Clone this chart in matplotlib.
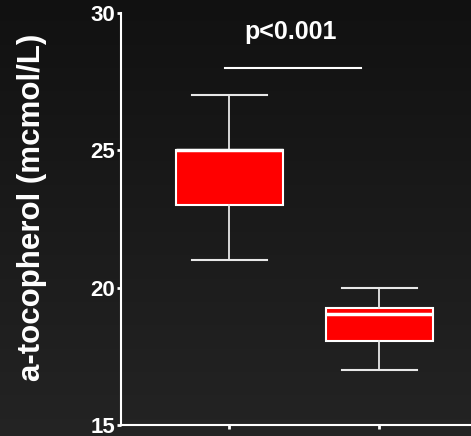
import numpy as np
import matplotlib.pyplot as plt

plt.rcParams['font.family'] = ['Liberation Sans', 'DejaVu Sans']
plt.rcParams['font.weight'] = 'bold'

# five-number summaries for the two groups
groups = ['Group 1', 'Group 2']
whisker_low = [21.0, 17.0]
q1 = [23.0, 18.05]
median = [25.0, 19.05]
q3 = [25.0, 19.25]
whisker_high = [27.0, 20.0]

p_label = 'p<0.001'
p_line_y = 28.0
y_ticks = [15, 20, 25, 30]

fig = plt.figure(figsize=(4.71, 4.36), dpi=100)

# dark vertical gradient behind everything
bg = fig.add_axes([0, 0, 1, 1], zorder=-1)
grad = np.linspace(0.067, 0.14, 256).reshape(-1, 1)
bg.imshow(np.dstack([grad] * 3), aspect='auto', extent=[0, 1, 0, 1], origin='upper')
bg.axis('off')

ax = fig.add_axes([121 / 471, 11 / 436, 1 - 121 / 471, 412 / 436])
ax.patch.set_alpha(0)

stats = []
for i, name in enumerate(groups):
    stats.append(dict(label=name, whislo=whisker_low[i], q1=q1[i], med=median[i],
                      q3=q3[i], whishi=whisker_high[i], fliers=[]))

ax.bxp(stats, positions=[1, 2], widths=0.71, patch_artist=True, showfliers=False,
       boxprops=dict(facecolor='#ff0000', edgecolor='white', linewidth=1.5),
       medianprops=dict(color='white', linewidth=2.5),
       whiskerprops=dict(color='#e8e8e8', linewidth=1.3),
       capprops=dict(color='#e8e8e8', linewidth=1.5), capwidths=0.5)

ax.plot([0.97, 1.88], [p_line_y, p_line_y], color='white', lw=1.5)
ax.text(1.41, 29.32, p_label, color='white', fontsize=18, fontweight='bold',
        ha='center', va='center')

ax.set_xlim(0.277, 2.61)
ax.set_ylim(15, 30)
ax.set_yticks(y_ticks)
ax.set_xticks([1, 2])
ax.set_xticklabels(['', ''])
ax.tick_params(axis='y', colors='white', labelsize=16, length=3, width=2, pad=1)
ax.tick_params(axis='x', colors='white', length=3, width=2)
for lab in ax.get_yticklabels():
    lab.set_fontweight('bold')

for side in ['top', 'right']:
    ax.spines[side].set_visible(False)
for side in ['left', 'bottom']:
    ax.spines[side].set_color('white')
    ax.spines[side].set_linewidth(1.5)

ax.set_ylabel('a-tocopherol (mcmol/L)', color='white', fontsize=22.5,
              fontweight='bold', va='center')
ax.yaxis.set_label_coords(-0.254, 0.529)

fig.savefig('out.png', dpi=100)
